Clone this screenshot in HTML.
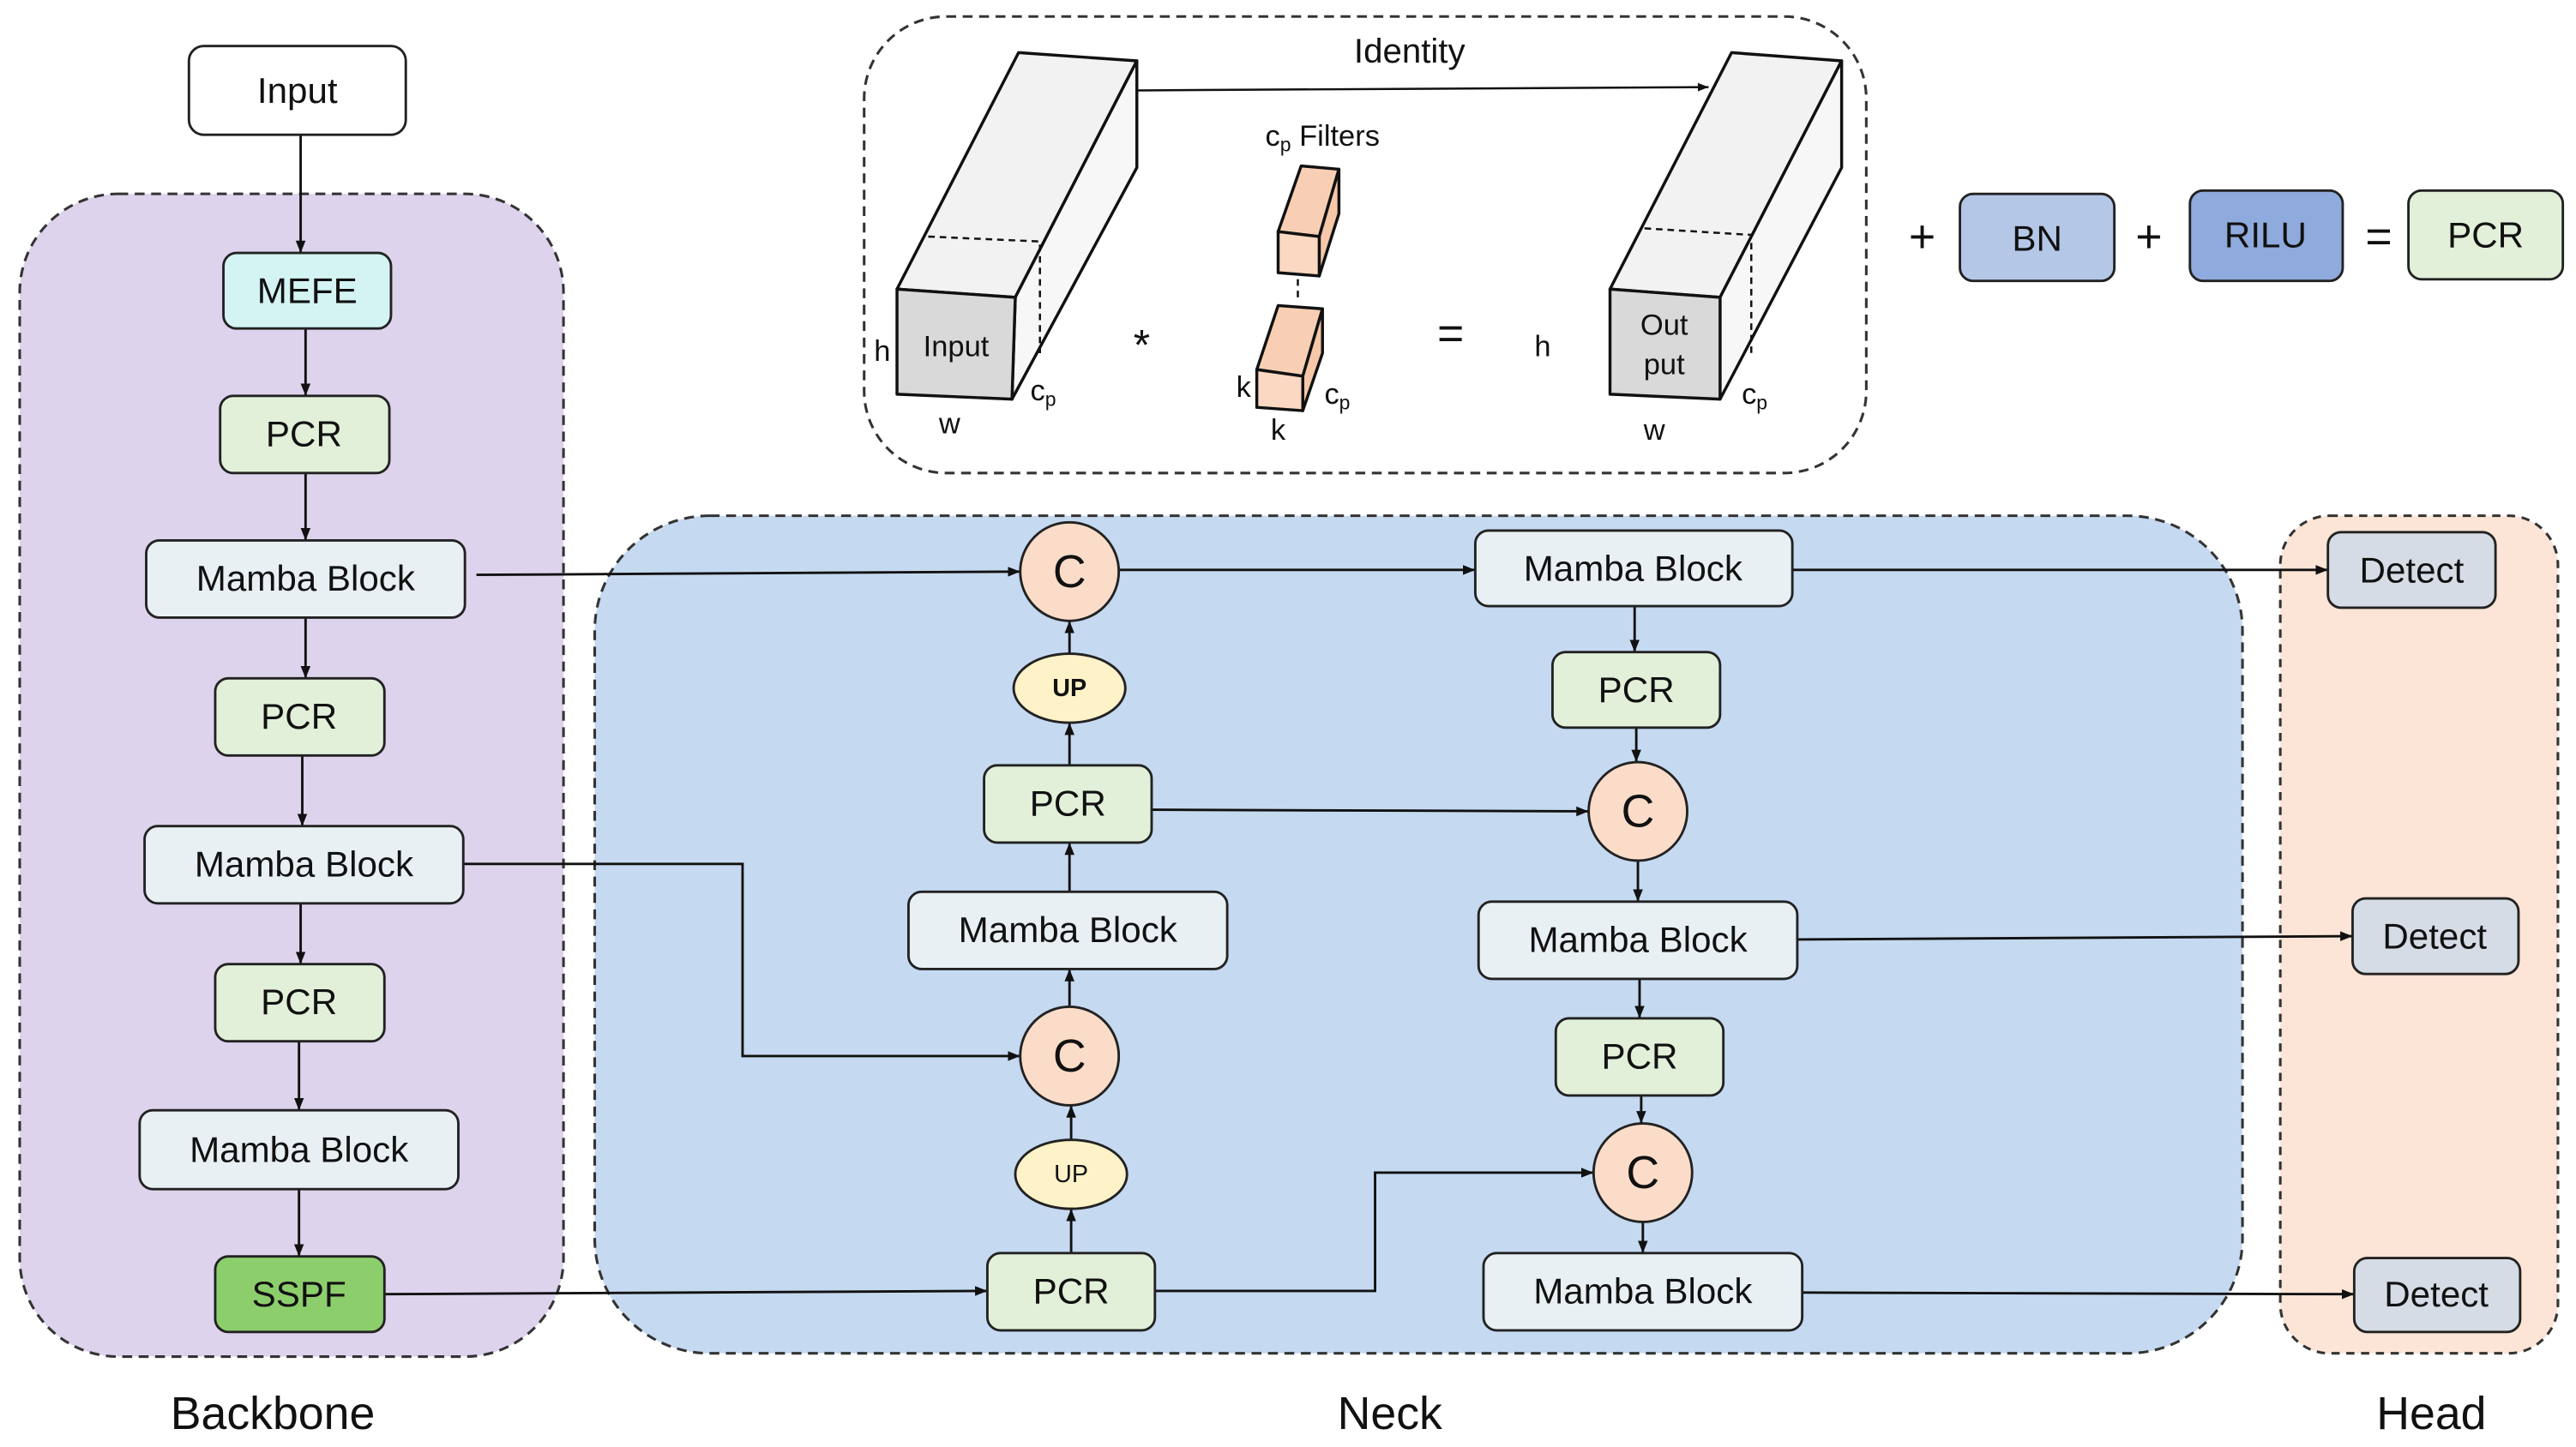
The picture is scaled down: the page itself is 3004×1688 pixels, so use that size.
<!DOCTYPE html>
<html><head><meta charset="utf-8"><style>html,body{margin:0;padding:0;background:#fff}svg{display:block}</style></head>
<body>
<svg width="3004" height="1688" viewBox="0 0 1568 881" xmlns="http://www.w3.org/2000/svg" font-family="Liberation Sans, sans-serif">
<defs>
<marker id="a" viewBox="0 0 10 10" refX="10" refY="5" markerWidth="5" markerHeight="5" orient="auto"><path d="M0,1 L10,5 L0,9 z" fill="#111"/></marker>
</defs>
<rect x="12" y="118" width="331" height="708" rx="60" fill="#ddd3ec" stroke="#333" stroke-width="1.6" stroke-dasharray="6,4"/>
<rect x="362" y="314" width="1003" height="510" rx="70" fill="#c5d9f1" stroke="#333" stroke-width="1.6" stroke-dasharray="6,4"/>
<rect x="1388" y="314" width="169" height="510" rx="30" fill="#fce4d6" stroke="#333" stroke-width="1.6" stroke-dasharray="5,4"/>
<rect x="526" y="10" width="610" height="278" rx="50" fill="#fff" stroke="#333" stroke-width="1.6" stroke-dasharray="6,4"/>

<g font-size="28" fill="#111" text-anchor="middle">
<text x="166" y="870">Backbone</text><text x="846" y="870">Neck</text><text x="1480" y="870">Head</text>
</g>

<g stroke="#111" stroke-width="1.5" fill="none" marker-end="url(#a)">
<path d="M183,82 V154"/><path d="M186,200 V241"/><path d="M186,288 V329"/><path d="M186,376 V413"/>
<path d="M184,460 V503"/><path d="M183,550 V587"/><path d="M182,634 V676"/><path d="M182,724 V765"/>
<path d="M290,350 L621,348"/><path d="M282,526 H452 V643 H621"/><path d="M234,788 L601,786"/>
<path d="M652,763 V736"/><path d="M652,694 V673"/><path d="M651,613 V590"/><path d="M651,543 V513"/>
<path d="M651,466 V440"/><path d="M651,398 V378"/>
<path d="M681,347 H898"/><path d="M995,369 V397"/><path d="M996,443 V464"/><path d="M701,493 L967,494"/>
<path d="M997,524 V549"/><path d="M998,596 V620"/><path d="M999,667 V684"/>
<path d="M703,786 H837 V714 H970"/><path d="M1000,744 V763"/>
<path d="M1091,347 L1417,347"/><path d="M1094,572 L1432,570"/><path d="M1097,787 L1433,788"/>
<path d="M692,55 L1040,53" stroke-width="1.3"/>
</g>

<g stroke="#222" stroke-width="1.5">
<rect x="115" y="28" width="132" height="54" rx="9" fill="#fff"/>
<rect x="136" y="154" width="102" height="46" rx="8" fill="#d3f4f3"/>
<rect x="134" y="241" width="103" height="47" rx="8" fill="#e2f0d9"/>
<rect x="89" y="329" width="194" height="47" rx="8" fill="#e8f0f4"/>
<rect x="131" y="413" width="103" height="47" rx="8" fill="#e2f0d9"/>
<rect x="88" y="503" width="194" height="47" rx="8" fill="#e8f0f4"/>
<rect x="131" y="587" width="103" height="47" rx="8" fill="#e2f0d9"/>
<rect x="85" y="676" width="194" height="48" rx="8" fill="#e8f0f4"/>
<rect x="131" y="765" width="103" height="46" rx="8" fill="#8dce6c"/>

<rect x="599" y="466" width="102" height="47" rx="8" fill="#e2f0d9"/>
<rect x="553" y="543" width="194" height="47" rx="8" fill="#e8f0f4"/>
<rect x="601" y="763" width="102" height="47" rx="8" fill="#e2f0d9"/>
<rect x="898" y="323" width="193" height="46" rx="8" fill="#e8f0f4"/>
<rect x="945" y="397" width="102" height="46" rx="8" fill="#e2f0d9"/>
<rect x="900" y="549" width="194" height="47" rx="8" fill="#e8f0f4"/>
<rect x="947" y="620" width="102" height="47" rx="8" fill="#e2f0d9"/>
<rect x="903" y="763" width="194" height="47" rx="8" fill="#e8f0f4"/>

<rect x="1417" y="324" width="102" height="46" rx="8" fill="#d6dce5"/>
<rect x="1432" y="547" width="101" height="46" rx="8" fill="#d6dce5"/>
<rect x="1433" y="766" width="101" height="45" rx="8" fill="#d6dce5"/>

<rect x="1193" y="118" width="94" height="53" rx="8" fill="#b4c7e7"/>
<rect x="1333" y="116" width="93" height="55" rx="8" fill="#8faadc"/>
<rect x="1466" y="116" width="94" height="54" rx="8" fill="#e2f0d9"/>

<circle cx="651" cy="348" r="30" fill="#fbdcc9"/>
<circle cx="651" cy="643" r="30" fill="#fbdcc9"/>
<circle cx="997" cy="494" r="30" fill="#fbdcc9"/>
<circle cx="1000" cy="714" r="30" fill="#fbdcc9"/>
<ellipse cx="651" cy="419" rx="34" ry="21" fill="#fdf2c8"/>
<ellipse cx="652" cy="715" rx="34" ry="21" fill="#fdf2c8"/>
</g>

<g font-size="22" fill="#111" text-anchor="middle" dominant-baseline="central">
<text x="181" y="55">Input</text><text x="187" y="177">MEFE</text><text x="185" y="264">PCR</text>
<text x="186" y="352">Mamba Block</text><text x="182" y="436">PCR</text><text x="185" y="526">Mamba Block</text>
<text x="182" y="610">PCR</text><text x="182" y="700">Mamba Block</text><text x="182" y="788">SSPF</text>
<text x="650" y="489">PCR</text><text x="650" y="566">Mamba Block</text><text x="652" y="786">PCR</text>
<text x="994" y="346">Mamba Block</text><text x="996" y="420">PCR</text><text x="997" y="572">Mamba Block</text>
<text x="998" y="643">PCR</text><text x="1000" y="786">Mamba Block</text>
<text x="1468" y="347">Detect</text><text x="1482" y="570">Detect</text><text x="1483" y="788">Detect</text>
<text x="1240" y="145">BN</text><text x="1379" y="143">RILU</text><text x="1513" y="143">PCR</text>
<text x="1170" y="144" font-size="28">+</text><text x="1308" y="144" font-size="28">+</text><text x="1448" y="144" font-size="28">=</text>
<text x="651" y="348" font-size="28">C</text><text x="651" y="643" font-size="28">C</text>
<text x="997" y="494" font-size="28">C</text><text x="1000" y="714" font-size="28">C</text>
<text x="651" y="419" font-size="15" font-weight="bold">UP</text><text x="652" y="715" font-size="15">UP</text>
</g>

<g stroke="#111" stroke-width="1.8" stroke-linejoin="round">
<polygon points="546,176 620,32 692,37 618,181" fill="#f2f2f2"/>
<polygon points="618,181 692,37 692,102 616,243" fill="#f7f7f7"/>
<polygon points="546,176 618,181 616,243 546,240" fill="#d9d9d9"/>
<polygon points="980,176 1054,32 1121,37 1047,181" fill="#f2f2f2"/>
<polygon points="1047,181 1121,37 1121,102 1047,243" fill="#f7f7f7"/>
<polygon points="980,176 1047,181 1047,243 980,240" fill="#d9d9d9"/>
<polygon points="778,141 792,101 815,103 803,144" fill="#f8cfb4"/>
<polygon points="803,144 815,103 815,130 803,168" fill="#f6c7a8"/>
<polygon points="778,141 803,144 803,168 778,166" fill="#fbd8c2"/>
<polygon points="765,225 778,186 805,188 793,229" fill="#f8cfb4"/>
<polygon points="793,229 805,188 805,215 793,250" fill="#f6c7a8"/>
<polygon points="765,225 793,229 793,250 765,248" fill="#fbd8c2"/>
</g>
<g stroke="#111" stroke-width="1.3" stroke-dasharray="4,3" fill="none">
<path d="M565,144 L633,147 V215"/><path d="M1001,139 L1066,143 V215"/><path d="M790,170 V184"/>
</g>
<g font-size="18" fill="#111" text-anchor="middle" dominant-baseline="central">
<text x="858" y="31" font-size="21">Identity</text>
<text x="805" y="83">c<tspan font-size="12" dy="5">p</tspan><tspan dy="-5"> Filters</tspan></text>
<text x="695" y="210" font-size="26">*</text><text x="883" y="203" font-size="28">=</text>
<text x="537" y="214">h</text><text x="578" y="258">w</text><text x="635" y="238">c<tspan font-size="12" dy="5">p</tspan></text>
<text x="582" y="211">Input</text>
<text x="757" y="236">k</text><text x="778" y="262">k</text><text x="814" y="240">c<tspan font-size="12" dy="5">p</tspan></text>
<text x="939" y="211">h</text><text x="1007" y="262">w</text><text x="1068" y="240">c<tspan font-size="12" dy="5">p</tspan></text>
<text x="1013" y="198">Out</text><text x="1013" y="222">put</text>
</g>
</svg>
</body></html>
